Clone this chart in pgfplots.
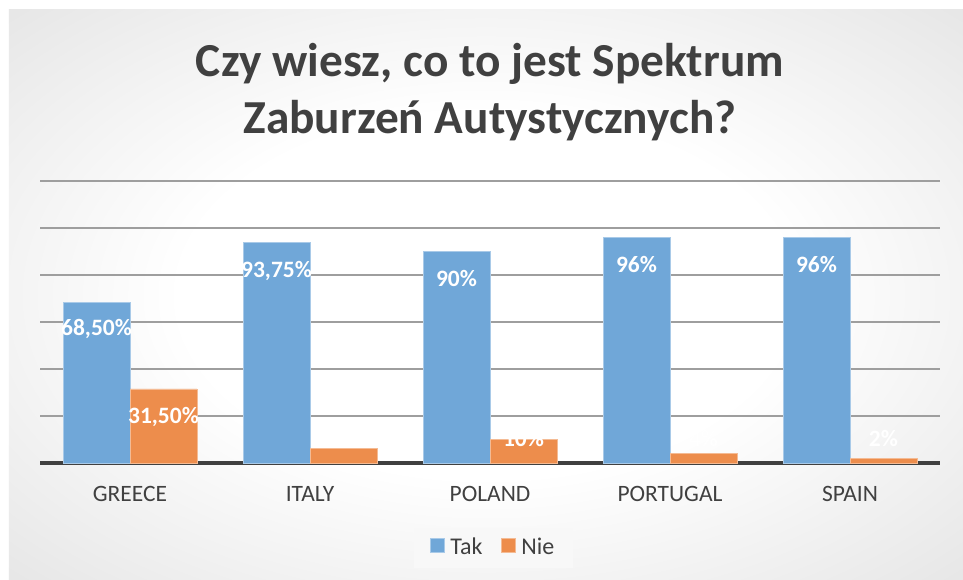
\documentclass[border=0pt]{standalone}
\usepackage{pgfplots}
\pgfplotsset{compat=1.18}
\usepackage{fontspec}
\setmainfont{Carlito}
\usetikzlibrary{backgrounds}
\definecolor{tak}{RGB}{112,167,216}
\definecolor{nie}{RGB}{237,141,76}
\definecolor{gridc}{RGB}{158,158,158}
\definecolor{darktxt}{RGB}{64,64,64}
\definecolor{bgedge}{RGB}{212,212,212}
\definecolor{bgcorner}{RGB}{192,192,192}
\definecolor{legfill}{RGB}{248,248,248}
\pgfdeclareradialshading{bgshade}{\pgfpoint{0bp}{0bp}}{color(0bp)=(white); color(16bp)=(white); color(50bp)=(bgedge); color(71bp)=(bgcorner)}
\pgfplotstableread{
x tak nie
0 68.5 31.5
1 93.75 6.25
2 90 10
3 96 4
4 96 2
}\bardata
\pgfplotstableread{
x y lab
-0.186 57.0 68,50
0.814 81.6 93,75
1.814 78.3 90
2.814 84.3 96
3.814 84.3 96
}\taklab
\pgfplotstableread{
x y lab
0.186 19.4 31,50
1.186 10.6 6,25
2.186 10.6 10
3.186 10.6 4
4.186 10.6 2
}\nielab
\begin{document}
\begin{tikzpicture}
\begin{axis}[
  name=ax,
  at={(0,0)}, anchor=south west,
  scale only axis,
  width=675pt, height=211.5pt,
  xmin=-0.5, xmax=4.5, ymin=0, ymax=120,
  axis x line=bottom, axis y line*=left,
  x axis line style={line width=2.4pt, color=darktxt, -},
  y axis line style={draw=none},
  ytick={20,40,...,120}, yticklabels={},
  ymajorgrids, grid style={line width=1pt, color=gridc},
  xtick={0,1,2,3,4},
  xticklabels={GREECE,ITALY,POLAND,PORTUGAL,SPAIN},
  major tick length=0pt,
  xticklabel style={anchor=base, yshift=-29.25pt, font=\fontsize{17.6}{20}\selectfont, text=darktxt},
  legend columns=2,
  legend style={at={(0.504,-0.30)}, anchor=center, draw=none, fill=legfill,
    font=\fontsize{18}{20}\selectfont, text=darktxt,
    /tikz/every even column/.append style={column sep=12pt},
    /tikz/every odd column/.append style={column sep=2pt},
    inner xsep=12pt, inner ysep=6pt},
  legend image code/.code={\fill[#1] (0pt,-3.6pt) rectangle (10.5pt,6.9pt);},
  clip=false,
]
\addplot[ybar, bar width=0.372, bar shift=-0.186, fill=tak, draw=tak!60!white, line width=0.6pt] table[x=x, y=tak] {\bardata};
\addlegendentry{Tak}
\addplot[ybar, bar width=0.372, bar shift=0.186, fill=nie, draw=nie!60!white, line width=0.6pt] table[x=x, y=nie] {\bardata};
\addlegendentry{Nie}
\addplot[draw=none, mark=none, forget plot, point meta=explicit symbolic,
  nodes near coords={\pgfplotspointmeta\%},
  every node near coord/.append style={anchor=center, text=white, inner sep=0pt, font=\fontsize{17.6}{20}\selectfont\bfseries}]
  table[x=x, y=y, meta=lab] {\taklab};
\addplot[draw=none, mark=none, forget plot, point meta=explicit symbolic,
  nodes near coords={\pgfplotspointmeta\%},
  every node near coord/.append style={anchor=center, text=white, inner sep=0pt, font=\fontsize{17.6}{20}\selectfont\bfseries}]
  table[x=x, y=y, meta=lab] {\nielab};
\node[anchor=base, inner sep=0pt, text=darktxt, font=\fontsize{35.5}{40}\selectfont\bfseries] at (rel axis cs:0.5,1.3723) {Czy wiesz, co to jest Spektrum};
\node[anchor=base, inner sep=0pt, text=darktxt, font=\fontsize{35.5}{40}\selectfont\bfseries] at (rel axis cs:0.5,1.1667) {Zaburzeń Autystycznych?};
\end{axis}
\begin{scope}[on background layer]
\fill[white] ([xshift=-30pt,yshift=-87.75pt]ax.south west) rectangle ([xshift=692.25pt,yshift=347.25pt]ax.south west);
\shade[shading=bgshade] ([xshift=-23.25pt,yshift=-87.75pt]ax.south west) rectangle ([xshift=692.25pt,yshift=339.75pt]ax.south west);
\end{scope}
\pgfresetboundingbox
\useasboundingbox ([xshift=-30pt,yshift=-87.75pt]ax.south west) rectangle ([xshift=692.25pt,yshift=347.25pt]ax.south west);
\end{tikzpicture}
\end{document}
